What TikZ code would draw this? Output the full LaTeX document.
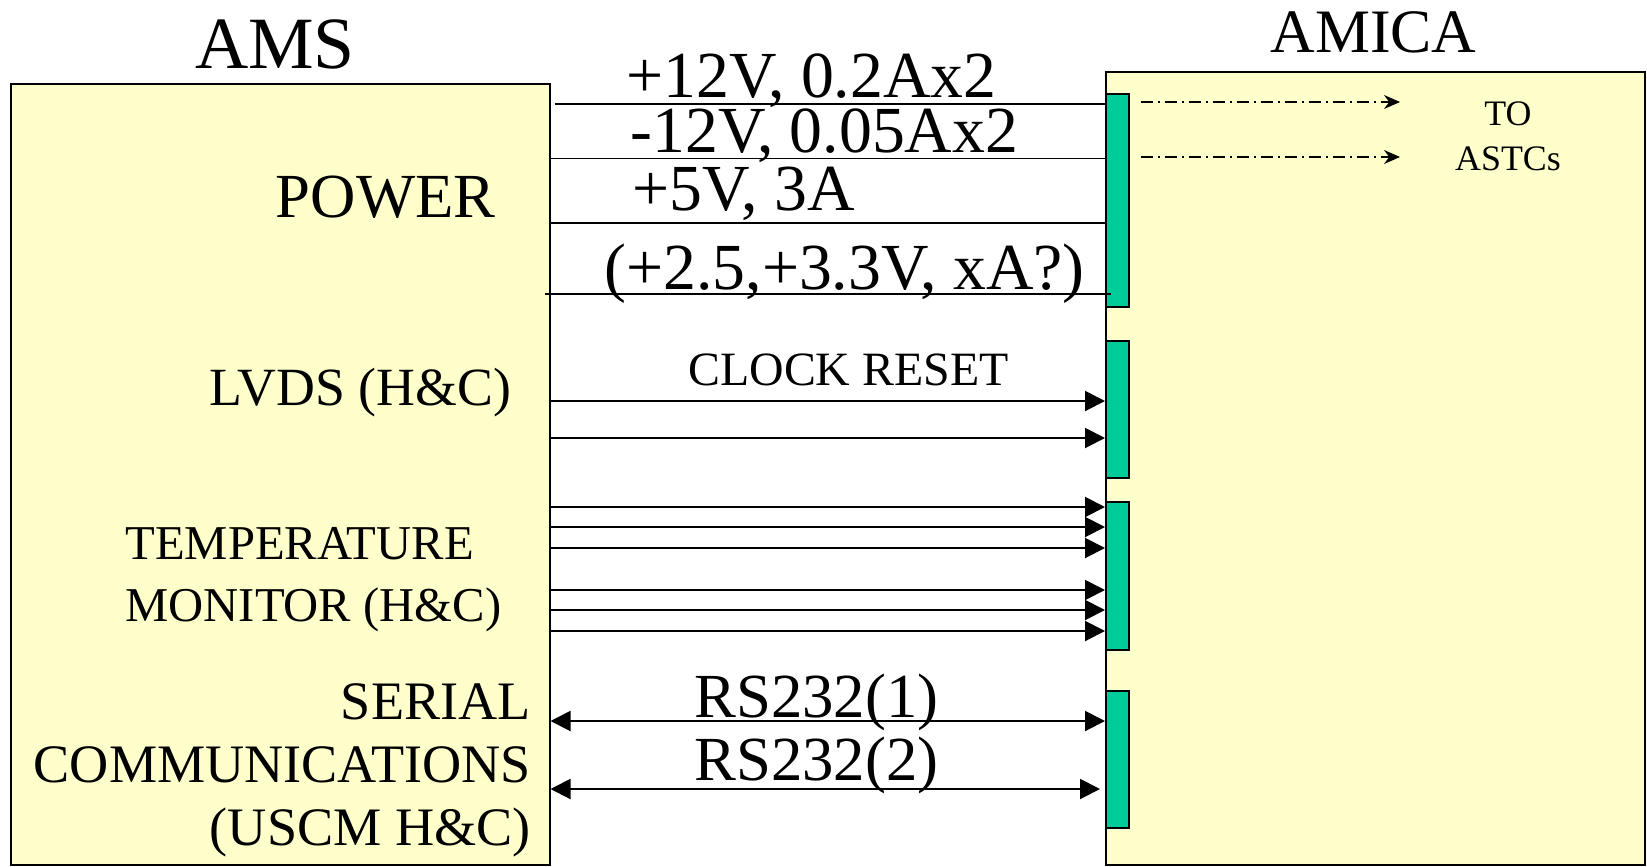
\documentclass[tikz,border=0pt]{standalone}
\usepackage{fontspec}
\setmainfont{Liberation Serif}
\usepackage{tikz}
\usetikzlibrary{arrows.meta, positioning, calc, fit}
\definecolor{boardyellow}{RGB}{255, 255, 204}
\definecolor{connGreen}{RGB}{0, 204, 153}

\tikzset{
  board/.style={draw, line width=1bp, fill=boardyellow, inner sep=0pt},
  conn/.style={draw, line width=1bp, fill=connGreen, inner sep=0pt},
  lbl/.style={inner sep=0pt},
  wire/.style={line width=0.8bp},
  sig/.style={line width=1bp, -{Triangle[length=10bp, width=10bp]}},
  bidir/.style={line width=1bp,
    {Triangle[length=10bp, width=10bp]}-{Triangle[length=10bp, width=10bp]}},
  astc/.style={line width=0.6bp, dash pattern=on 6bp off 2.5bp on 1bp off 2.5bp,
    -{Stealth[length=8bp, width=7bp]}},
  volt/.style={lbl, font=\fontsize{33}{40}\selectfont, anchor=base west},
}

\begin{document}
\begin{tikzpicture}[x=0.5bp, y=-0.5bp]
  \useasboundingbox (0,0) rectangle (1647,866);
  % boards
  \node[board, fit={(10.5,84) (549.5,865)}] (ams) {};
  \node[board, fit={(1106,72) (1645,865)}] (amica) {};
  \node[lbl, font=\fontsize{37}{44}\selectfont, anchor=base] (amsTitle) at (275,68) {AMS};
  \node[lbl, font=\fontsize{31}{37}\selectfont, anchor=base] (amicaTitle) at (1373.5,52) {AMICA};
  % connectors on AMICA
  \node[conn, fit={(1106,93.5) (1129,307)}] (pwr) {};
  \node[conn, fit={(1106,341) (1129,478)}] (lvds) {};
  \node[conn, fit={(1106,502) (1129,650)}] (temp) {};
  \node[conn, fit={(1106,691) (1129,828)}] (ser) {};
  % AMS side labels
  \node[lbl, font=\fontsize{31.5}{38}\selectfont, anchor=base east] (powerLbl) at (496,217.5) {POWER};
  \node[lbl, font=\fontsize{27}{32}\selectfont, anchor=base east] (lvdsLbl) at (511.5,405) {LVDS (H\&C)};
  \node[lbl, font=\fontsize{24.4}{31}\selectfont, anchor=base west, align=left] (tempLbl)
    at (125,621) {TEMPERATURE\\MONITOR (H\&C)};
  \node[lbl, font=\fontsize{27.2}{31.5}\selectfont, anchor=base east, align=right] (serLbl)
    at (531,845) {SERIAL\\COMMUNICATIONS\\(USCM H\&C)};
  % power lines
  \draw[wire] ([xshift=2bp]ams.east |- 0,104) -- (pwr.west |- 0,104);
  \draw[wire] (ams.east |- 0,158.5) -- (amica.west |- 0,158.5);
  \draw[wire] (ams.east |- 0,223) -- (amica.west |- 0,223);
  \draw[wire] ([xshift=-3bp]ams.east |- 0,294) -- ([xshift=3bp]pwr.west |- 0,294);
  \node[volt] (v12p) at (626,97.5) {+12V, 0.2Ax2};
  \node[volt] (v12m) at (630,152) {-12V, 0.05Ax2};
  \node[volt] (v5) at (632,210) {+5V, 3A};
  \node[volt] (vlow) at (604,289) {(+2.5,+3.3V, xA?)};
  % LVDS
  \node[lbl, font=\fontsize{24}{29}\selectfont, anchor=base west] (clkLbl) at (688,385.5) {CLOCK RESET};
  \foreach \y in {401,438}
    \draw[sig] (ams.east |- 0,\y) -- (lvds.west |- 0,\y);
  % temperature monitor
  \foreach \y in {507,527,548,590,610,631}
    \draw[sig] (ams.east |- 0,\y) -- (temp.west |- 0,\y);
  % serial links
  \draw[bidir] (ams.east |- 0,721) -- (ser.west |- 0,721);
  \draw[bidir] (ams.east |- 0,789) -- ([xshift=-2.5bp]ser.west |- 0,789);
  \node[lbl, font=\fontsize{31.5}{38}\selectfont, anchor=base west] (rs1) at (694,717) {RS232(1)};
  \node[lbl, font=\fontsize{31.5}{38}\selectfont, anchor=base west] (rs2) at (694,780) {RS232(2)};
  % on to the ASTCs
  \coordinate (astcA) at (1400,102);
  \coordinate (astcB) at (1400,157);
  \draw[astc] ([xshift=5.5bp]pwr.east |- astcA) -- (astcA);
  \draw[astc] ([xshift=5.5bp]pwr.east |- astcB) -- (astcB);
  \node[lbl, font=\fontsize{18}{22.5}\selectfont, align=center, anchor=base] (astcLbl)
    at (1508,170) {TO\\ASTCs};
\end{tikzpicture}
\end{document}
